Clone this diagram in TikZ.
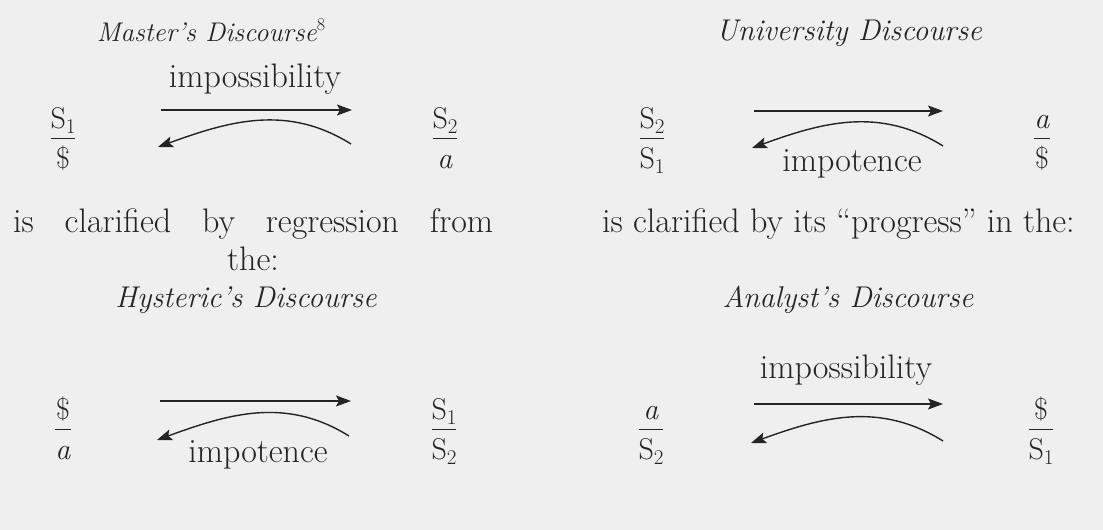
\documentclass[tikz,border=0pt]{standalone}
\usepackage{fontspec}
\usetikzlibrary{arrows.meta}

\definecolor{ink}{HTML}{242424}
\definecolor{paper}{HTML}{EFEFEF}
\setlength{\arrayrulewidth}{1.4pt}
% fraction : numerateur sur denominateur, base = ligne du bas
\newcommand{\lfrac}[2]{{\renewcommand{\arraystretch}{0}%
  \begin{tabular}[b]{@{}c@{}}#1\rule[-9pt]{0pt}{9pt}\\\hline\rule{0pt}{30pt}#2\end{tabular}}}
% S avec indice
\newcommand{\Sx}[1]{S\raisebox{-5pt}{\fontsize{21}{24}\selectfont #1}}

\tikzset{
  txt/.style={font=\fontsize{34}{40}\selectfont, text=ink, inner sep=0pt, anchor=base},
  ttl/.style={font=\fontsize{30}{36}\selectfont\itshape, text=ink, inner sep=0pt, anchor=base},
  frc/.style={txt, font=\fontsize{30}{36}\selectfont},
  arr/.style={draw=ink, line width=1.4pt, -{Stealth[length=15pt,width=11pt,inset=3pt]}}
}

\begin{document}
\begin{tikzpicture}[x=1pt, y=1pt]
    \fill[paper] (0,0) rectangle (1103,530);
    \useasboundingbox (0,0) rectangle (1103,530);

    % Discours du maitre
    \node[ttl, font=\fontsize{27}{32}\selectfont\itshape] (tA) at (211,488)
        {Master's Discourse\raisebox{11pt}{\upshape\fontsize{18}{21}\selectfont 8}};
    \node[frc] (fA1) at (63,361) {\lfrac{\Sx{1}}{\$}};
    \node[frc] (fA2) at (445,361) {\lfrac{\Sx{2}}{\textit{a}}};
    \node[txt] (lA) at (255,442) {impossibility};
    \coordinate (a1) at (161,420);
    \coordinate (a2) at (352,420);
    \coordinate (a3) at (351,386);
    \coordinate (a4) at (158,383);
    \draw[arr] (a1) -- (a2);
    \draw[arr] (a3) to[out=148, in=20] (a4);

    % Discours de l'universite
    \node[ttl] (tB) at (849,489) {University Discourse};
    \node[frc] (fB1) at (652,361) {\lfrac{\Sx{2}}{\Sx{1}}};
    \node[frc] (fB2) at (1042,361) {\lfrac{\textit{a}}{\$}};
    \node[txt] (lB) at (852,358) {impotence};
    \coordinate (b1) at (754,419);
    \coordinate (b2) at (943,419);
    \coordinate (b3) at (943,384);
    \coordinate (b4) at (752,382);
    \draw[arr] (b1) -- (b2);
    \draw[arr] (b3) to[out=148, in=20] (b4);

    % Texte du milieu
    \node[txt, anchor=base west] (mL) at (13,297)
        {\makebox[480pt][s]{is clarified by regression from}};
    \node[txt] (mL2) at (253,259) {the:};
    \node[txt, anchor=base west] (mR) at (602,297)
        {is clarified by its ``progress'' in the:};

    % Discours de l'hysterique
    \node[ttl] (tC) at (246,222) {Hysteric's Discourse};
    \node[frc] (fC1) at (63,70) {\lfrac{\$}{\textit{a}}};
    \node[frc] (fC2) at (444,70) {\lfrac{\Sx{1}}{\Sx{2}}};
    \node[txt] (lC) at (258,67) {impotence};
    \coordinate (c1) at (160,129);
    \coordinate (c2) at (351,129);
    \coordinate (c3) at (349,94);
    \coordinate (c4) at (157,90);
    \draw[arr] (c1) -- (c2);
    \draw[arr] (c3) to[out=148, in=20] (c4);

    % Discours de l'analyste
    \node[ttl] (tD) at (848,222) {Analyst's Discourse};
    \node[frc] (fD1) at (651,70) {\lfrac{\textit{a}}{\Sx{2}}};
    \node[frc] (fD2) at (1041,70) {\lfrac{\$}{\Sx{1}}};
    \node[txt] (lD) at (846,151) {impossibility};
    \coordinate (d1) at (754,126);
    \coordinate (d2) at (943,126);
    \coordinate (d3) at (943,89);
    \coordinate (d4) at (751,87);
    \draw[arr] (d1) -- (d2);
    \draw[arr] (d3) to[out=148, in=20] (d4);
\end{tikzpicture}
\end{document}
